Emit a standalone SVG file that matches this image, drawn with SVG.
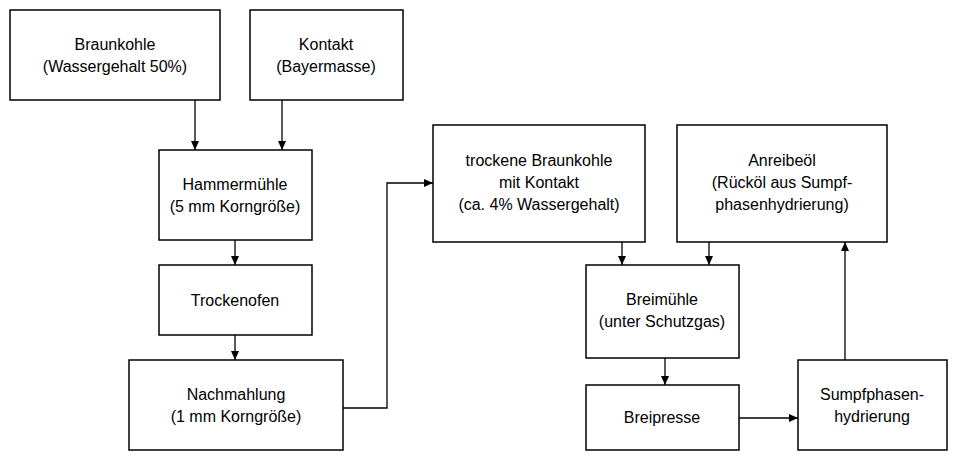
<svg xmlns="http://www.w3.org/2000/svg" width="960" height="464" viewBox="0 0 960 464">
<style>
rect{fill:#fff;stroke:#000;stroke-width:1.5}
text{font-family:"Liberation Sans",Arial,sans-serif;font-size:16px;fill:#000;text-anchor:middle}
.c path{fill:none;stroke:#000;stroke-width:1.3;marker-end:url(#a)}
</style>
<defs><marker id="a" markerWidth="10" markerHeight="10" refX="9" refY="5" orient="auto" markerUnits="userSpaceOnUse"><path d="M0,1 L9,5 L0,9 Z" fill="#000"/></marker></defs>
<rect width="960" height="464" style="stroke:none"/>
<g id="n1"><rect x="10" y="10" width="210" height="90"/><text x="115" y="50">Braunkohle</text><text x="115" y="72">(Wassergehalt 50%)</text></g>
<g id="n2"><rect x="250" y="10" width="153" height="90"/><text x="326" y="50">Kontakt</text><text x="326" y="72">(Bayermasse)</text></g>
<g id="n3"><rect x="159" y="150" width="153" height="90"/><text x="235" y="190">Hammermühle</text><text x="235" y="212">(5 mm Korngröße)</text></g>
<g id="n4"><rect x="159" y="265" width="153" height="70"/><text x="235" y="306">Trockenofen</text></g>
<g id="n5"><rect x="129" y="360" width="214" height="90"/><text x="236" y="400">Nachmahlung</text><text x="236" y="422">(1 mm Korngröße)</text></g>
<g id="n6"><rect x="433" y="125" width="212" height="117"/><text x="539" y="166">trockene Braunkohle</text><text x="539" y="188">mit Kontakt</text><text x="539" y="210">(ca. 4% Wassergehalt)</text></g>
<g id="n7"><rect x="677" y="125" width="210" height="117"/><text x="782" y="166">Anreibeöl</text><text x="782" y="188">(Rücköl aus Sumpf-</text><text x="782" y="210">phasenhydrierung)</text></g>
<g id="n8"><rect x="586" y="265" width="153" height="93"/><text x="662" y="305">Breimühle</text><text x="662" y="327">(unter Schutzgas)</text></g>
<g id="n9"><rect x="586" y="385" width="153" height="65"/><text x="662" y="423">Breipresse</text></g>
<g id="n10"><rect x="798" y="360" width="149" height="90"/><text x="872" y="400">Sumpfphasen-</text><text x="872" y="422">hydrierung</text></g>
<g class="c">
<path d="M195,100 V150"/><path d="M282,100 V150"/>
<path d="M235,240 V265"/><path d="M235,335 V360"/>
<path d="M343,408 H387 V183 H433"/>
<path d="M622,242 V265"/><path d="M709,242 V265"/>
<path d="M665,358 V385"/><path d="M739,418 H798"/>
<path d="M845,360 V242"/>
</g>
</svg>
